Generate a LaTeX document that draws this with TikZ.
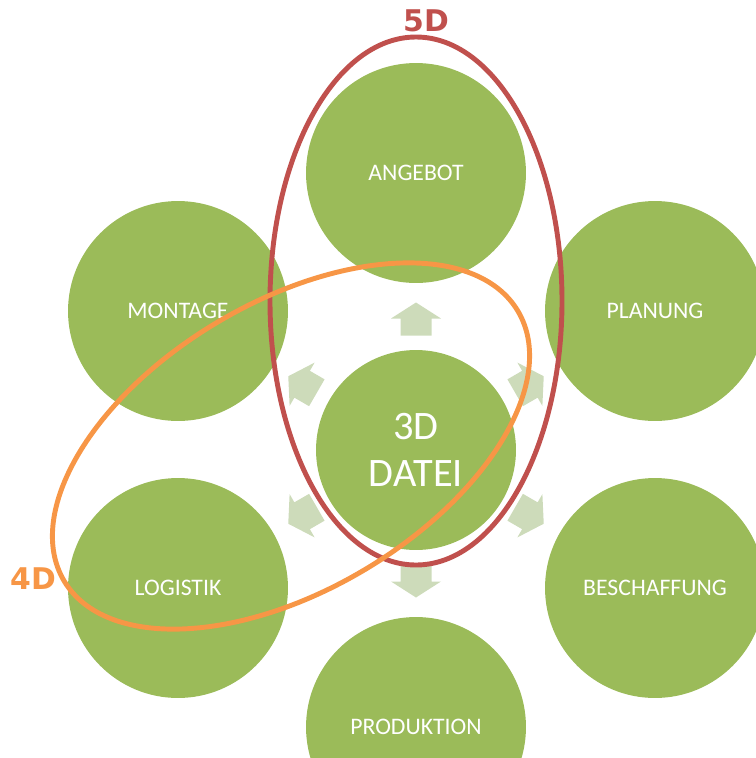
\documentclass[tikz,border=0pt]{standalone}
\usepackage{fontspec}
\setmainfont{Carlito}
\newfontfamily\dimfont{DejaVu Sans}
\usetikzlibrary{arrows}

\definecolor{leaf}{HTML}{9BBB59}
\definecolor{sprout}{HTML}{CDDBBA}
\definecolor{brick}{HTML}{C0504D}
\definecolor{amber}{HTML}{F79646}

\begin{document}
\begin{tikzpicture}[x=0.02cm, y=-0.02cm]

\tikzset{phase/.style = {shape=circle, fill=leaf, text=white, minimum size=4.4cm, inner sep=0pt, font=\fontsize{13.5}{16}\selectfont}}
\tikzset{core/.style = {phase, minimum size=4cm, align=center, font=\fontsize{23}{27}\selectfont}}
\tikzset{ring/.style = {line width=2.8pt}}
\tikzset{dimlabel/.style = {font=\dimfont\bfseries\fontsize{17}{20}\selectfont, inner sep=0pt}}

\useasboundingbox (0,0) rectangle (755,758);

% circles
\node[core] (0) at (416,450) {3D\\DATEI};
\node[phase] (1) at (416,173) {ANGEBOT};
\node[phase] (2) at (655,311) {PLANUNG};
\node[phase] (3) at (655,588) {BESCHAFFUNG};
\node[phase] (4) at (416,727) {PRODUKTION};
\node[phase] (5) at (178,588) {LOGISTIK};
\node[phase] (6) at (178,311) {MONTAGE};

% block arrows
\foreach \a in {90,30,-30,-90,-150,150} {
  \begin{scope}[shift={(0)}, rotate=\a]
    \fill[sprout] (114.5,-15.5) -- (131.5,-15.5) -- (131.5,-25) -- (147.5,0) -- (131.5,25) -- (131.5,15.5) -- (114.5,15.5) -- cycle;
  \end{scope}
}

% rings
\draw[ring, draw=brick] (416,301) ellipse [x radius=146, y radius=264];
\draw[ring, draw=amber, rotate around={30.75:(291,446)}] (291,446) ellipse [x radius=264, y radius=144];

% labels
\node[dimlabel, text=brick] (5d) at (426,21) {5D};
\node[dimlabel, text=amber] (4d) at (33,579) {4D};

\end{tikzpicture}
\end{document}
